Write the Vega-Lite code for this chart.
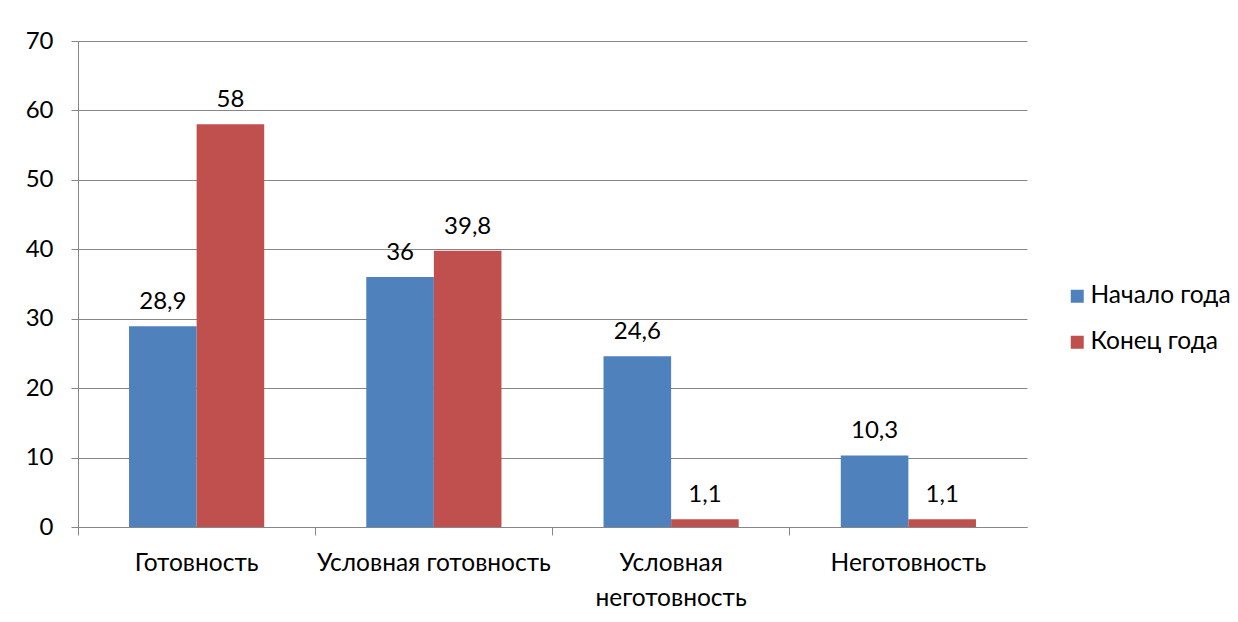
{
  "$schema": "https://vega.github.io/schema/vega-lite/v6.json",
  "width": 949,
  "height": 486,
  "autosize": {"type": "none"},
  "padding": {"left": 78, "top": 41, "right": 211, "bottom": 95},
  "background": "white",
  "config": {
    "view": {"stroke": null},
    "font": "Lato",
    "locale": {"number": {"decimal": ",", "thousands": "\u00a0", "grouping": [3], "currency": ["", " ₽"]}}
  },
  "data": {
    "values": [
      {"category": "Готовность", "series": "Начало года", "value": 28.9},
      {"category": "Готовность", "series": "Конец года", "value": 58},
      {"category": "Условная готовность", "series": "Начало года", "value": 36},
      {"category": "Условная готовность", "series": "Конец года", "value": 39.8},
      {"category": "Условная неготовность", "series": "Начало года", "value": 24.6},
      {"category": "Условная неготовность", "series": "Конец года", "value": 1.1},
      {"category": "Неготовность", "series": "Начало года", "value": 10.3},
      {"category": "Неготовность", "series": "Конец года", "value": 1.1}
    ]
  },
  "encoding": {
    "x": {
      "field": "category",
      "type": "nominal",
      "sort": ["Готовность", "Условная готовность", "Условная неготовность", "Неготовность"],
      "scale": {"paddingInner": 0, "paddingOuter": 0},
      "axis": {
        "title": null,
        "labelAngle": 0,
        "bandPosition": 0,
        "labelOverlap": false,
        "labelBound": false,
        "labelFlush": false,
        "labelLimit": 0,
        "labelFontSize": 24.5,
        "labelColor": "#000000",
        "labelPadding": 16,
        "labelLineHeight": 35,
        "labelExpr": "datum.label == 'Условная неготовность' ? ['Условная', 'неготовность'] : datum.label",
        "tickSize": 8,
        "tickColor": "#868686",
        "domainColor": "#868686",
        "grid": false
      }
    },
    "xOffset": {
      "field": "series",
      "type": "nominal",
      "sort": ["Начало года", "Конец года"],
      "scale": {"paddingInner": 0, "paddingOuter": 0.755}
    },
    "y": {
      "field": "value",
      "type": "quantitative",
      "scale": {"domain": [0, 70]},
      "axis": {
        "title": null,
        "values": [0, 10, 20, 30, 40, 50, 60, 70],
        "labelFontSize": 24,
        "labelColor": "#000000",
        "labelPadding": 18,
        "tickSize": 7,
        "tickColor": "#868686",
        "domainColor": "#868686",
        "gridColor": "#868686",
        "grid": true
      }
    }
  },
  "layer": [
    {
      "mark": {"type": "bar"},
      "encoding": {
        "color": {
          "field": "series",
          "type": "nominal",
          "sort": ["Начало года", "Конец года"],
          "scale": {"domain": ["Начало года", "Конец года"], "range": ["#4F81BD", "#C0504D"]},
          "legend": {
            "title": null,
            "orient": "none",
            "legendX": 987,
            "legendY": 243,
            "symbolType": "square",
            "symbolSize": 169,
            "symbolStrokeWidth": 0,
            "labelFontSize": 24.5,
            "labelColor": "#000000",
            "rowPadding": 21,
            "labelOffset": 1
          }
        }
      }
    },
    {
      "mark": {"type": "text", "dy": -17, "baseline": "alphabetic", "fontSize": 24, "color": "#000000"},
      "encoding": {
        "text": {"field": "value", "type": "quantitative", "format": "~g"}
      }
    }
  ]
}
